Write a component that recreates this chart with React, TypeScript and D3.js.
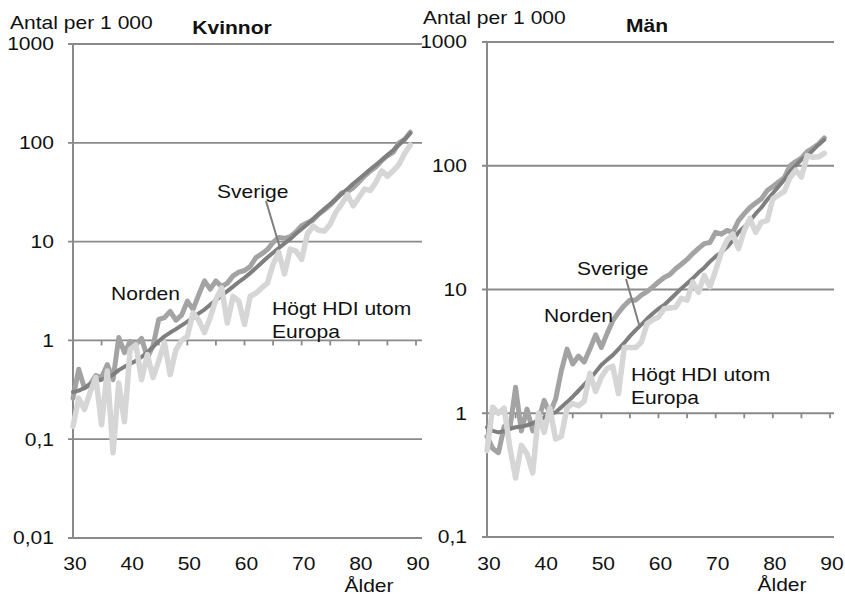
import React from "react";
import * as d3 from "d3";

// Age categories on the x axis (30–89 years)
const ages = d3.range(30, 90);

// Women, rate per 1 000
const kvinnorSverige = [
  0.30, 0.31, 0.33, 0.36, 0.39, 0.40, 0.42, 0.45, 0.50, 0.54,
  0.58, 0.62, 0.68, 0.76, 0.86, 0.98, 1.10, 1.20, 1.30, 1.42,
  1.55, 1.70, 1.88, 2.05, 2.30, 2.55, 2.85, 3.15, 3.50, 3.90,
  4.30, 4.80, 5.40, 6.10, 6.90, 7.70, 8.60, 9.60, 10.6, 12.0,
  13.4, 15.0, 17.0, 19.0, 21.5, 24, 27, 30.5, 34, 38.5,
  43, 48, 54, 60, 67, 75, 84, 95, 108, 125,
];
const kvinnorNorden = [
  0.26, 0.51, 0.33, 0.36, 0.44, 0.42, 0.57, 0.40, 1.07, 0.75,
  0.98, 0.90, 1.05, 0.67, 0.88, 1.63, 1.70, 1.97, 1.60, 1.80,
  2.5, 2.06, 2.9, 4.0, 3.3, 4.0, 3.5, 3.8, 4.5, 4.9,
  5.1, 5.6, 6.9, 7.5, 8.3, 9.8, 11.0, 10.8, 11.2, 12.5,
  14.5, 15.5, 16.5, 19, 21, 23.5, 27, 31, 32, 35,
  40, 46, 52, 57, 66, 74, 80, 100, 108, 128,
];
const kvinnorHdi = [
  0.135, 0.26, 0.20, 0.30, 0.42, 0.14, 0.49, 0.073, 0.37, 0.15,
  0.81, 0.90, 0.40, 0.72, 0.42, 0.62, 0.95, 0.45, 0.80, 1.0,
  1.1, 1.9, 1.6, 1.2, 1.7, 2.6, 3.4, 1.5, 2.8, 2.5,
  1.45, 2.8, 3.0, 3.4, 3.8, 5.9, 7.8, 4.7, 8.4, 8.0,
  6.6, 12, 14.3, 13, 12.8, 15, 20, 24, 30, 23,
  28, 34, 33, 40, 52, 46, 52, 60, 78, 95,
];

// Men, rate per 1 000
const manSverige = [
  0.77, 0.72, 0.70, 0.72, 0.75, 0.77, 0.78, 0.80, 0.83, 0.88,
  0.92, 0.97, 1.02, 1.12, 1.23, 1.36, 1.52, 1.70, 1.90, 2.15,
  2.45, 2.70, 2.95, 3.30, 3.70, 4.20, 4.70, 5.20, 5.80, 6.40,
  7.0, 7.5, 8.3, 9.2, 10.2, 11.2, 12.3, 13.7, 15.0, 16.8,
  18.5, 20, 22, 25, 29, 32, 36, 41, 46, 53,
  60, 68, 77, 90, 100, 112, 120, 133, 148, 162,
];
const manNorden = [
  0.65, 0.52, 0.48, 0.78, 0.75, 1.62, 0.72, 1.08, 0.72, 0.88,
  1.27, 1.0, 1.3, 2.2, 3.3, 2.5, 2.9, 2.6, 3.3, 4.3,
  3.4, 4.4, 5.6, 6.5, 7.4, 8.2, 8.2, 9.0, 9.6, 10.5,
  11.5, 12.5, 13.2, 14.7, 16, 17.5, 19.5, 21.5, 23.5, 24,
  29, 28, 30, 29, 36, 41, 46, 50, 54, 63,
  68, 74, 80, 100, 108, 115, 130, 139, 150, 168,
];
const manHdi = [
  0.50, 1.12, 1.0, 1.1, 0.53, 0.30, 0.55, 0.47, 0.33, 1.0,
  0.7, 1.1, 0.62, 0.65, 1.1, 1.2, 1.15, 1.25, 2.1, 1.5,
  1.96, 2.3, 2.4, 1.44, 3.4, 3.4, 3.4, 3.75, 5.3, 5.7,
  6.0, 7.0, 7.1, 7.2, 8.5, 8.2, 11.5, 9.5, 13, 10.5,
  14.3, 20, 25, 28, 21.4, 30, 37.5, 29, 35, 36,
  54, 58, 62, 80, 92, 81, 121, 117, 118, 126,
];

const xTickLabels = [30, 40, 50, 60, 70, 80, 90];
const xMinorTicks = d3.range(35, 95, 5);
const kvinnorYTicks = [0.01, 0.1, 1, 10, 100, 1000];
const manYTicks = [0.1, 1, 10, 100, 1000];

const FONT = "'Liberation Sans', Arial, Helvetica, sans-serif";
const GRID = "#8a8a8a";
const TEXT = "#111";
const STRETCH = 1.17;
const FONT_SIZE = 18;

const fmt = (v: number) => String(v).replace(".", ",");

type TProps = {
  x: number;
  y: number;
  anchor?: "start" | "middle" | "end";
  bold?: boolean;
  dy?: string;
  children: React.ReactNode;
};

// Text with the slightly widened Arial look
function T({ x, y, anchor = "start", bold, dy, children }: TProps) {
  return (
    <text
      transform={`translate(${x},${y}) scale(${STRETCH},1)`}
      textAnchor={anchor}
      fontFamily={FONT}
      fontSize={FONT_SIZE}
      fontWeight={bold ? "bold" : "normal"}
      fill={TEXT}
      dy={dy}
    >
      {children}
    </text>
  );
}

type PanelProps = {
  title: string;
  titleX: number;
  unitX: number;
  unitY: number;
  titleY: number;
  yTicks: number[];
  x0: number; // pixel of age 30
  x1: number; // pixel of age 90
  gridRight: number;
  top: number;
  bottom: number;
  yLabelRight: number;
  alderX: number;
  alderY: number;
  sverige: number[];
  norden: number[];
  hdi: number[];
  sverigeLabel: [number, number];
  leader: [number, number, number, number];
  nordenLabel: [number, number];
  hdiLabel: [number, number];
};

function Panel(p: PanelProps) {
  const x = d3.scaleLinear().domain([30, 90]).range([p.x0, p.x1]);
  const y = d3
    .scaleLog()
    .domain([p.yTicks[0], p.yTicks[p.yTicks.length - 1]])
    .range([p.bottom, p.top]);
  const line = d3
    .line<number>()
    .x((_, i) => x(ages[i]))
    .y((d) => y(d));
  const axisY = y(1);

  return (
    <g>
      {/* horizontal gridlines with outside tick marks */}
      {p.yTicks.map((t) => (
        <line
          key={t}
          x1={p.x0 - 5}
          x2={p.gridRight}
          y1={y(t)}
          y2={y(t)}
          stroke={GRID}
          strokeWidth={1.8}
        />
      ))}
      {/* vertical value axis */}
      <line x1={p.x0} x2={p.x0} y1={p.top} y2={p.bottom} stroke={GRID} strokeWidth={2} />
      {/* category axis crossing at 1 */}
      {xMinorTicks.map((a) => (
        <line
          key={a}
          x1={x(a)}
          x2={x(a)}
          y1={axisY}
          y2={axisY + 5}
          stroke={GRID}
          strokeWidth={1.8}
        />
      ))}

      {/* series */}
      <path d={line(p.norden) || ""} fill="none" stroke="#a3a3a3" strokeWidth={5} strokeLinejoin="round" strokeLinecap="round" />
      <path d={line(p.sverige) || ""} fill="none" stroke="#7f7f7f" strokeWidth={4} strokeLinejoin="round" strokeLinecap="round" />
      <path d={line(p.hdi) || ""} fill="none" stroke="#d6d6d6" strokeWidth={5.5} strokeLinejoin="round" strokeLinecap="round" />

      {/* y tick labels */}
      {p.yTicks.map((t) => (
        <T key={t} x={p.yLabelRight} y={y(t)} anchor="end" dy="0.36em">
          {fmt(t)}
        </T>
      ))}
      {/* x tick labels */}
      {xTickLabels.map((a) => (
        <T key={a} x={x(a) + 2} y={570} anchor="middle">
          {a}
        </T>
      ))}
      <T x={p.alderX} y={p.alderY} anchor="middle">Ålder</T>

      <T x={p.unitX} y={p.unitY}>Antal per 1 000</T>
      <T x={p.titleX} y={p.titleY} anchor="middle" bold>{p.title}</T>

      {/* series labels */}
      <line
        x1={p.leader[0]}
        y1={p.leader[1]}
        x2={p.leader[2]}
        y2={p.leader[3]}
        stroke="#7f7f7f"
        strokeWidth={2}
      />
      <T x={p.sverigeLabel[0]} y={p.sverigeLabel[1]}>Sverige</T>
      <T x={p.nordenLabel[0]} y={p.nordenLabel[1]}>Norden</T>
      <T x={p.hdiLabel[0]} y={p.hdiLabel[1]}>Högt HDI utom</T>
      <T x={p.hdiLabel[0]} y={p.hdiLabel[1] + 23}>Europa</T>
    </g>
  );
}

export default function App() {
  return (
    <svg width={845} height={597} style={{ display: "block", position: "absolute", left: 0, top: 0, background: "#fff" }}>
      <rect width={845} height={597} fill="#fff" />
      <Panel
        title="Kvinnor"
        titleX={232}
        titleY={34}
        unitX={10}
        unitY={29}
        yTicks={kvinnorYTicks}
        x0={73}
        x1={416}
        gridRight={422}
        top={44}
        bottom={538}
        yLabelRight={54}
        alderX={369}
        alderY={592}
        sverige={kvinnorSverige}
        norden={kvinnorNorden}
        hdi={kvinnorHdi}
        sverigeLabel={[217, 198]}
        leader={[266, 201, 280, 248]}
        nordenLabel={[111, 300]}
        hdiLabel={[272, 315]}
      />
      <Panel
        title="Män"
        titleX={647}
        titleY={32}
        unitX={423}
        unitY={24}
        yTicks={manYTicks}
        x0={487}
        x1={830}
        gridRight={834}
        top={42}
        bottom={537}
        yLabelRight={467}
        alderX={782}
        alderY={591}
        sverige={manSverige}
        norden={manNorden}
        hdi={manHdi}
        sverigeLabel={[577, 275]}
        leader={[626, 279, 640, 328]}
        nordenLabel={[544, 322]}
        hdiLabel={[631, 381]}
      />
    </svg>
  );
}
